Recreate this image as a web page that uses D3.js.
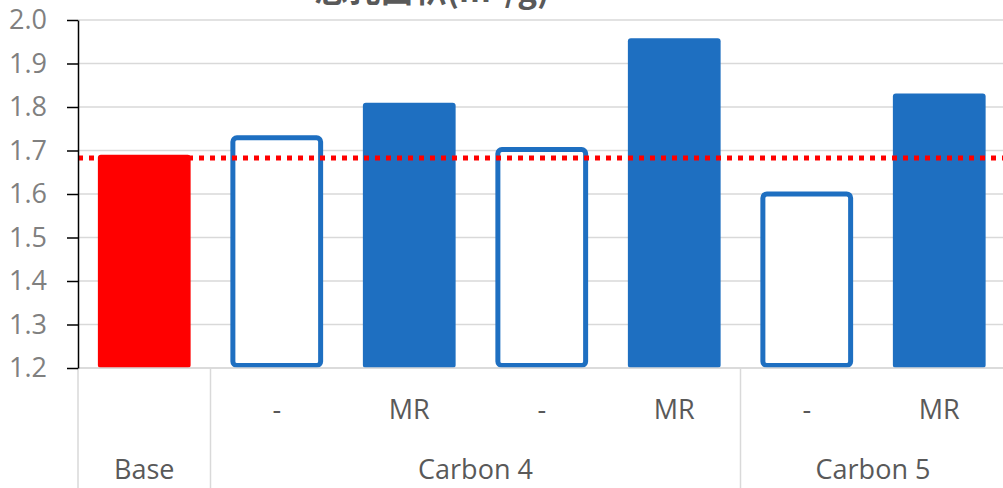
<!DOCTYPE html>
<html>
<head>
<meta charset="utf-8">
<script src="https://cdn.jsdelivr.net/npm/d3@7"></script>
<style>
  body { margin: 0; background: #fff; }
  svg { display: block; font-family: "Open Sans", "Noto Sans", sans-serif; }
</style>
</head>
<body>
<div id="chart"></div>
<script>
// data
const subLabels = ['', '-', 'MR', '-', 'MR', '-', 'MR'];
const groups = [
  {name: 'Base', from: 0, to: 0},
  {name: 'Carbon 4', from: 1, to: 4},
  {name: 'Carbon 5', from: 5, to: 6}
];
const values = [1.69, 1.735, 1.81, 1.708, 1.958, 1.606, 1.831];
const kinds = ['base', 'open', 'fill', 'open', 'fill', 'open', 'fill'];
const baseline = 1.683;
const yTicks = [1.2, 1.3, 1.4, 1.5, 1.6, 1.7, 1.8, 1.9, 2.0];
const title = '总孔面积(m²/g)';

const W = 1003, H = 488;
const plotLeft = 78, plotRight = 1005.5, plotTop = 20, plotBottom = 368;

const svg = d3.select('#chart').append('svg')
  .attr('width', W)
  .attr('height', H);

const x = d3.scaleBand()
  .domain(d3.range(values.length))
  .range([plotLeft, plotRight])
  .paddingInner(0.3)
  .paddingOuter(0.15);

const y = d3.scaleLinear()
  .domain([1.2, 2.0])
  .range([plotBottom, plotTop]);

// gridlines
svg.append('g')
  .selectAll('line')
  .data(yTicks)
  .join('line')
  .attr('x1', plotLeft).attr('x2', W)
  .attr('y1', d => y(d)).attr('y2', d => y(d))
  .attr('stroke', '#d9d9d9')
  .attr('stroke-width', 1.5);

// category dividers in the label area
const bounds = [0, 1, 5, 7].map(i => plotLeft + i * x.step());
svg.append('g')
  .selectAll('line')
  .data(bounds)
  .join('line')
  .attr('x1', d => d).attr('x2', d => d)
  .attr('y1', plotBottom).attr('y2', H)
  .attr('stroke', '#d9d9d9')
  .attr('stroke-width', 1.5);

// bars
const color = {base: '#ff0000', fill: '#1e6fc1', open: '#1e6fc1'};
const sw = 5;
svg.append('g')
  .selectAll('rect')
  .data(values.map((v, i) => ({v, i, k: kinds[i]})))
  .join('rect')
  .attr('x', d => d.k === 'open' ? x(d.i) + sw / 2 : x(d.i))
  .attr('width', d => d.k === 'open' ? x.bandwidth() - sw : x.bandwidth())
  .attr('y', d => d.k === 'open' ? y(d.v) + sw / 2 : y(d.v))
  .attr('height', d => d.k === 'open' ? y(1.2) - y(d.v) - sw : y(1.2) - y(d.v))
  .attr('rx', d => d.k === 'open' ? 4 : 3)
  .attr('fill', d => d.k === 'open' ? '#fff' : color[d.k])
  .attr('stroke', d => d.k === 'open' ? color[d.k] : 'none')
  .attr('stroke-width', sw);

// category axis line
svg.append('line')
  .attr('x1', plotLeft).attr('x2', W)
  .attr('y1', plotBottom).attr('y2', plotBottom)
  .attr('stroke', '#d9d9d9')
  .attr('stroke-width', 1.5);

// baseline reference (dotted)
svg.append('line')
  .attr('x1', plotLeft).attr('x2', W)
  .attr('y1', y(baseline)).attr('y2', y(baseline))
  .attr('stroke', '#ff0000')
  .attr('stroke-width', 5)
  .attr('stroke-dasharray', '5,6');

// y axis
const yAxis = d3.axisLeft(y)
  .tickValues(yTicks)
  .tickFormat(d3.format('.1f'))
  .tickSize(11)
  .tickSizeOuter(0)
  .tickPadding(20);
const ga = svg.append('g')
  .attr('transform', `translate(${plotLeft},0)`)
  .call(yAxis);
ga.select('.domain').attr('stroke', '#000').attr('stroke-width', 1.5);
ga.selectAll('.tick line').attr('stroke', '#000').attr('stroke-width', 1.5);
ga.selectAll('.tick text')
  .attr('fill', '#808080')
  .attr('font-size', 27)
  .style('font-family', '"Open Sans", "Noto Sans", sans-serif');

// sub-category labels
svg.append('g')
  .selectAll('text')
  .data(subLabels)
  .join('text')
  .attr('x', (d, i) => x(i) + x.bandwidth() / 2)
  .attr('y', 410)
  .attr('dy', '0.35em')
  .attr('text-anchor', 'middle')
  .attr('fill', '#595959')
  .attr('font-size', 27)
  .text(d => d);

// group labels
svg.append('g')
  .selectAll('text')
  .data(groups)
  .join('text')
  .attr('x', d => (2 * plotLeft + (d.from + d.to + 1) * x.step()) / 2)
  .attr('y', 470)
  .attr('dy', '0.35em')
  .attr('text-anchor', 'middle')
  .attr('fill', '#595959')
  .attr('font-size', 27)
  .text(d => d.name);

// title, mostly cut off at the top
svg.append('text')
  .attr('x', 432)
  .attr('y', 2)
  .attr('text-anchor', 'middle')
  .attr('fill', '#595959')
  .attr('font-size', 33)
  .attr('font-weight', 'bold')
  .style('font-family', '"Noto Sans CJK SC", sans-serif')
  .text(title);
</script>
</body>
</html>
